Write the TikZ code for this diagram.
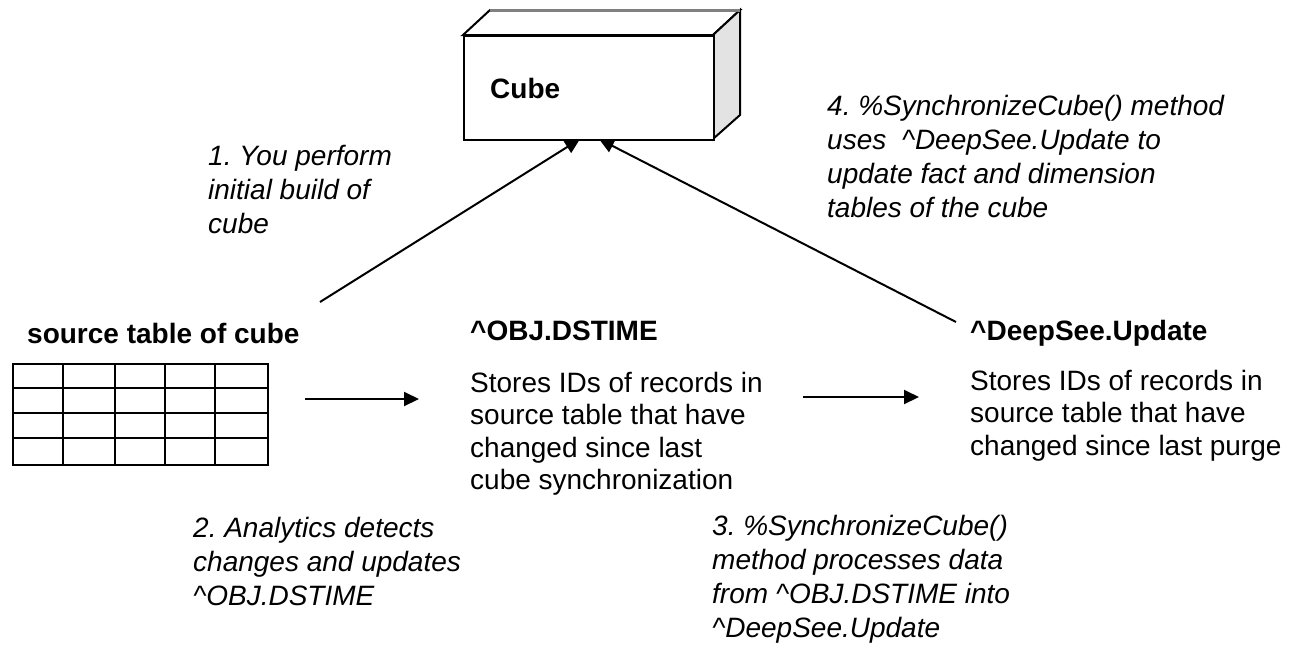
\documentclass[tikz,border=0pt]{standalone}
\usepackage{fontspec}
\setmainfont{Liberation Sans}
\usetikzlibrary{arrows.meta}
\newcommand{\fl}{\rule{0pt}{24pt}}
\frenchspacing
\begin{document}
\begin{tikzpicture}[x=1pt,y=-1pt,
  txt/.style={inner sep=0pt,anchor=north west,align=left,font=\fontsize{28}{32.5}\selectfont\frenchspacing},
  itxt/.style={txt,font=\fontsize{28}{34}\selectfont\itshape\frenchspacing},
  btxt/.style={inner sep=0pt,anchor=base west,font=\fontsize{28}{32}\selectfont\bfseries},
  conn/.style={line width=2pt,-{Triangle[length=15pt,width=14pt]}},
  edge/.style={line width=2pt,line join=miter}]
\useasboundingbox (0,0) rectangle (1299,649);
% cube
\filldraw[edge,fill=white] (463,35) -- (490,10) -- (740,10) -- (713,35) -- cycle;
\filldraw[edge,fill=gray!22] (713,35) -- (740,10) -- (740,115) -- (713,139) -- cycle;
\draw[gray,line width=3pt] (490,10) -- (740,10);
\node[edge,draw,fill=white,minimum width=250pt,minimum height=104pt,anchor=north west,inner sep=0pt] (cube) at (463,35) {};
\node[btxt] (cubelabel) at (490,98) {Cube};
% table
\node[draw,line width=2pt,minimum width=255pt,minimum height=101pt,anchor=north west,inner sep=0pt] (table) at (12,363) {};
\foreach \xx in {63,115,165,215} \draw[line width=2pt] (\xx,363) -- (\xx,464);
\foreach \yy in {388,413,438} \draw[line width=2pt] (12,\yy) -- (267,\yy);
\node[btxt] (srclabel) at (27,343) {source table of cube};
% OBJ.DSTIME
\node[btxt] (objhead) at (470,340) {\textasciicircum OBJ.DSTIME};
\node[txt] (objbody) at (470,368) {\fl Stores IDs of records in\\source table that have\\changed since last\\cube synchronization};
% DeepSee.Update
\node[btxt] (dshead) at (970,340) {\textasciicircum DeepSee.Update};
\node[txt] (dsbody) at (970,366) {\fl Stores IDs of records in\\source table that have\\changed since last purge};
% labels
\node[itxt] (l1) at (208,141) {\fl 1. You perform\\initial build of\\cube};
\node[itxt] (l4) at (827,91) {\fl 4. \%SynchronizeCube() method\\uses\ \ \textasciicircum DeepSee.Update to\\update fact and dimension\\tables of the cube};
\node[itxt] (l2) at (193,513) {\fl 2. Analytics detects\\changes and updates\\\textasciicircum OBJ.DSTIME};
\node[itxt] (l3) at (712,511) {\fl 3. \%SynchronizeCube()\\method processes data\\from \textasciicircum OBJ.DSTIME into\\\textasciicircum DeepSee.Update};
% connectors
\coordinate (a1s) at (320,302);
\coordinate (a1e) at (580,139);
\coordinate (a2s) at (956,322);
\coordinate (a2e) at (599,139);
\coordinate (h1s) at (305,399);
\coordinate (h1e) at (419,399);
\coordinate (h2s) at (803,397);
\coordinate (h2e) at (919,397);
\draw[conn] (a1s) -- (a1e);
\draw[conn] (a2s) -- (a2e);
\draw[conn] (h1s) -- (h1e);
\draw[conn] (h2s) -- (h2e);
\end{tikzpicture}
\end{document}
